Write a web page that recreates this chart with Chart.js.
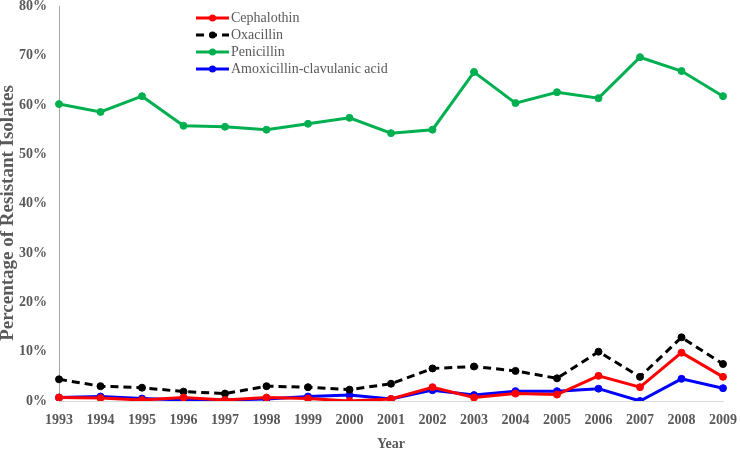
<!DOCTYPE html>
<html><head><meta charset="utf-8">
<script src="https://cdn.jsdelivr.net/npm/chart.js@4/dist/chart.umd.min.js"></script>
<style>html,body{margin:0;padding:0;background:#fff}#wrap{width:740px;height:449px;overflow:hidden;position:relative}#c{position:absolute;left:0;top:-14px}</style>
</head><body><div id="wrap"><canvas id="c" width="748" height="463"></canvas></div>
<script>
const years = ['1993','1994','1995','1996','1997','1998','1999','2000','2001','2002','2003','2004','2005','2006','2007','2008','2009'];
const cephalothin = [0.7,0.6,0.2,0.7,0.2,0.7,0.5,0.0,0.4,2.8,0.7,1.5,1.3,5.1,2.8,9.8,4.9];
const oxacillin = [4.4,3.0,2.7,1.9,1.5,3.0,2.8,2.3,3.5,6.6,7.0,6.1,4.6,10.0,4.9,12.9,7.5];
const penicillin = [60.2,58.6,61.8,55.8,55.6,55.0,56.2,57.4,54.3,55.0,66.7,60.4,62.6,61.4,69.7,66.9,61.8];
const amoxClav = [0.7,0.9,0.5,0.2,0.2,0.4,0.9,1.2,0.4,2.2,1.2,2.0,2.0,2.5,0.0,4.5,2.6];
const seriesNames = ['Cephalothin','Oxacillin','Penicillin','Amoxicillin-clavulanic acid'];
const yTicks = [0,10,20,30,40,50,60,70,80];
const yTitle = 'Percentage of Resistant Isolates';

const gray = '#595959';
const serif = '"Liberation Serif","Times New Roman",serif';
const OFF = 14;

function ds(label, data, color, dash) {
  return {label, data, borderColor: color, backgroundColor: color, pointBackgroundColor: color,
    pointBorderColor: color, borderWidth: 3, pointBorderWidth: 1, pointRadius: 3.5, pointHoverRadius: 3.5,
    borderDash: dash || [], tension: 0, fill: false};
}

const legendPlugin = {
  id: 'customLegend',
  afterDraw(chart) {
    const ctx = chart.ctx;
    const x0 = 196, x1 = 229, y0 = 18 + OFF, dy = 17;
    chart.data.datasets.forEach((d, i) => {
      const y = y0 + i * dy;
      ctx.save();
      ctx.strokeStyle = d.borderColor; ctx.lineWidth = 3;
      ctx.setLineDash(d.borderDash || []);
      ctx.beginPath(); ctx.moveTo(x0, y); ctx.lineTo(x1, y); ctx.stroke();
      ctx.setLineDash([]);
      ctx.fillStyle = d.borderColor;
      ctx.beginPath(); ctx.arc((x0 + x1) / 2, y, 3.5, 0, Math.PI * 2); ctx.fill();
      ctx.fillStyle = gray; ctx.font = '14px ' + serif;
      ctx.textBaseline = 'middle'; ctx.textAlign = 'left';
      ctx.fillText(d.label, x1 + 2, y);
      ctx.restore();
    });
    // y axis title
    ctx.save();
    ctx.translate(8, 213 + OFF);
    ctx.rotate(-Math.PI / 2);
    ctx.fillStyle = gray; ctx.font = 'bold 19px ' + serif;
    ctx.textAlign = 'center'; ctx.textBaseline = 'middle';
    ctx.fillText(yTitle, 0, 0);
    ctx.restore();
  }
};

new Chart(document.getElementById('c'), {
  type: 'line',
  data: {
    labels: years,
    datasets: [
      ds(seriesNames[0], cephalothin, '#ff0000'),
      ds(seriesNames[1], oxacillin, '#000000', [8, 5]),
      ds(seriesNames[2], penicillin, '#00b050'),
      ds(seriesNames[3], amoxClav, '#0000ff')
    ]
  },
  options: {
    responsive: false, animation: false,
    layout: {padding: {top: 0, right: 8, left: 0, bottom: 0}},
    plugins: {legend: {display: false}, tooltip: {enabled: false}},
    scales: {
      x: {
        grid: {display: false, drawTicks: false},
        border: {display: true, color: '#d9d9d9', width: 1},
        ticks: {color: gray, font: {family: serif, size: 14, weight: 'bold'}, padding: 11, maxRotation: 0, autoSkip: false},
        title: {display: true, text: 'Year', color: gray, font: {family: serif, size: 14, weight: 'bold'}, padding: {top: 8, bottom: -4}},
        afterFit(s) { s.height = 48; }
      },
      y: {
        min: 0, max: 80,
        afterBuildTicks(s) { s.ticks = yTicks.map(v => ({value: v})); },
        grid: {display: false, drawTicks: false},
        border: {display: true, color: '#a6a6a6', width: 1},
        ticks: {color: gray, font: {family: serif, size: 14, weight: 'bold'}, padding: 12, callback: v => v + '%'},
        afterFit(s) { s.width = 59; }
      }
    }
  },
  plugins: [legendPlugin]
});
</script>
</body></html>
